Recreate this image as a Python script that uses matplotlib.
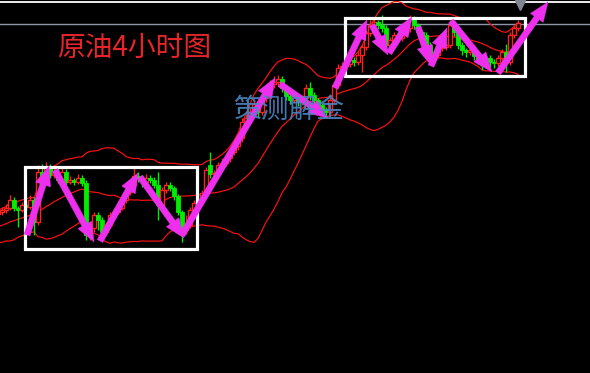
import numpy as np
import pandas as pd
import matplotlib
matplotlib.use("Agg")
import matplotlib.pyplot as plt
from matplotlib.patches import Rectangle

# ---- data (20 warm-up bars before the visible window, then 130 visible bars) ----
pre_open  = [160,162,160,164,166,162,168,170,168,172,174,171,176,178,175,180,182,179,184,186]
pre_close = [162,160,164,166,162,168,170,168,172,174,171,176,178,175,180,182,179,184,186,188]
pre_high  = [165,165,167,169,169,171,173,173,175,177,177,179,181,181,183,185,185,187,189,191]
pre_low   = [157,157,157,161,159,159,165,165,165,169,168,168,173,172,172,177,176,176,181,183]

open_ = [188,190,192,200,192,190,195,193,200,178,
         228,224,232,225,228,220,228,218,220,218,
         222,217,165,172,185,180,168,175,185,188,
         192,200,208,215,224,222,218,222,220,215,
         195,210,215,212,204,188,170,175,190,197,
         200,207,235,226,227,235,237,242,248,254,
         262,278,282,288,296,288,302,310,316,318,
         321,312,304,300,305,298,302,312,305,300,
         295,290,288,300,315,332,334,336,340,338,
         345,353,367,375,378,375,372,355,360,365,
         362,367,372,382,375,368,365,355,340,345,
         352,353,355,375,368,355,350,348,350,344,
         340,335,342,338,337,342,348,338,365,372]
close = [190,192,200,192,190,195,193,200,178,228,
         224,232,225,228,220,228,218,220,218,222,
         217,165,172,185,180,168,175,185,188,192,
         200,208,215,224,222,218,222,220,215,195,
         210,215,212,204,188,170,175,190,197,200,
         207,230,226,227,235,237,242,248,254,262,
         278,282,288,296,288,302,310,316,318,321,
         312,304,300,305,298,302,312,305,300,295,
         290,288,300,315,332,334,336,340,338,345,
         353,367,375,378,375,372,355,360,365,362,
         367,372,382,375,368,365,355,340,345,352,
         353,355,375,368,355,350,348,350,344,340,
         335,342,338,337,342,348,338,365,372,377]
high = [193,196,205,203,194,198,197,205,203,235,
        236,238,236,232,233,232,231,224,222,226,
        225,220,176,188,188,183,178,188,192,195,
        203,212,218,232,228,225,226,225,223,228,
        213,218,218,214,206,190,185,193,200,207,
        210,233,248,230,238,242,246,252,258,266,
        282,286,292,300,299,306,313,320,324,325,
        324,315,308,308,307,305,316,318,308,302,
        297,293,303,318,336,338,340,344,343,349,
        356,370,380,382,380,385,375,363,368,368,
        371,376,385,384,377,370,368,358,349,355,
        357,358,380,378,370,358,352,354,352,347,
        342,345,345,341,345,351,356,368,375,380]
low = [185,187,190,189,173,188,190,191,165,175,
       220,222,222,222,217,218,215,216,215,216,
       214,160,160,168,170,160,165,172,183,186,
       190,197,205,212,218,213,215,217,212,180,
       192,207,209,200,185,158,166,172,186,194,
       196,204,222,222,224,232,234,238,245,250,
       258,275,278,284,283,285,298,306,312,314,
       308,300,296,297,294,295,300,300,296,291,
       286,283,285,297,312,328,330,333,334,335,
       328,350,364,372,371,368,352,352,357,358,
       359,364,368,371,364,361,350,335,337,342,
       349,350,352,364,351,345,343,345,340,336,
       330,332,333,332,334,339,328,335,362,369]

title_text = "原油4小时图"
mark_text = "策测解金"

# arrows drawn on the chart: (start bar, start price) -> (end bar, end price)
arrows = [((6.25, 165), (11.75, 234)), ((13.25, 230), (23.0, 158)),
          ((24.5, 159), (34.0, 227)), ((34.5, 223), (45.5, 162)),
          ((45.0, 165), (68.25, 322)), ((69.5, 316), (81.5, 282)),
          ((83.25, 312), (91.25, 380)), ((92.5, 375), (96.5, 345)),
          ((96.75, 347), (102.5, 383)), ((104.0, 373), (107.25, 335)),
          ((107.25, 334), (111.25, 372)), ((112.25, 379), (122.5, 328)),
          ((124.0, 327), (136.5, 398))]
boxes = [((5.75, 151), (48.75, 233)), ((85.75, 324), (130.75, 382))]

# ---- assemble ----
o = np.array(pre_open + open_, float)
c = np.array(pre_close + close, float)
h = np.array(pre_high + high, float)
l = np.array(pre_low + low, float)
x = np.arange(len(c)) - len(pre_close)

s = pd.Series(c)
mid = s.rolling(20).mean()
sd = s.rolling(20).std(ddof=0)
up = mid + 2 * sd
dn = mid - 2 * sd

fig = plt.figure(figsize=(5.9, 3.73), dpi=100, facecolor="black")
ax = fig.add_axes([0, 0, 1, 1])
ax.set_facecolor("black")
ax.set_xlim(-0.5, 147)
ax.set_ylim(27, 400)
ax.axis("off")

# header lines
ax.axhline(398, color="white", lw=1.3, zorder=1)
ax.axhline(376, color="#8a95a5", lw=1.0, zorder=1)
ax.plot([129.5], [395], marker="v", color="#7f8790", markersize=7, zorder=1)

# bollinger bands
for band in (up, mid, dn):
    ax.plot(x, band, color="#ff1010", lw=0.85, zorder=2)

RED = "#ff2020"
GREEN = "#00ee00"
w = 0.8
for xi, oi, ci, hi, li in zip(x, o, c, h, l):
    if ci >= oi:
        ax.vlines(xi, li, hi, color=RED, lw=1.0, zorder=3)
        ax.add_patch(Rectangle((xi - w / 2, oi), w, max(ci - oi, 0.8),
                               facecolor="black", edgecolor=RED, lw=1.0, zorder=4))
    else:
        ax.vlines(xi, li, hi, color=GREEN, lw=1.0, zorder=3)
        ax.add_patch(Rectangle((xi - w / 2, ci), w, max(oi - ci, 0.8),
                               facecolor=GREEN, edgecolor=GREEN, lw=0.6, zorder=4))

# boxes
for (x0, y0), (x1, y1) in boxes:
    ax.add_patch(Rectangle((x0, y0), x1 - x0, y1 - y0, fill=False,
                           edgecolor="white", lw=2.3, zorder=6))

# arrows
for (xs, ys), (xe, ye) in arrows:
    ax.annotate("", xy=(xe, ye), xytext=(xs, ys),
                arrowprops=dict(arrowstyle="simple,head_width=0.8,head_length=1.0,tail_width=0.32",
                                mutation_scale=14, color="#ee30ee", lw=0.3,
                                shrinkA=0, shrinkB=0),
                zorder=7)

fam = ["Noto Sans CJK SC", "DejaVu Sans"]
fig.text(57 / 590, 1 - 48 / 373, title_text, color="#e8242a", fontsize=20,
         family=fam, va="center", ha="left", zorder=8)
fig.text(289 / 590, 1 - 110 / 373, mark_text, color="#4a86c4", fontsize=20,
         family=fam, va="center", ha="center", alpha=0.9, zorder=8)

fig.savefig("out.png", dpi=100, facecolor="black")
